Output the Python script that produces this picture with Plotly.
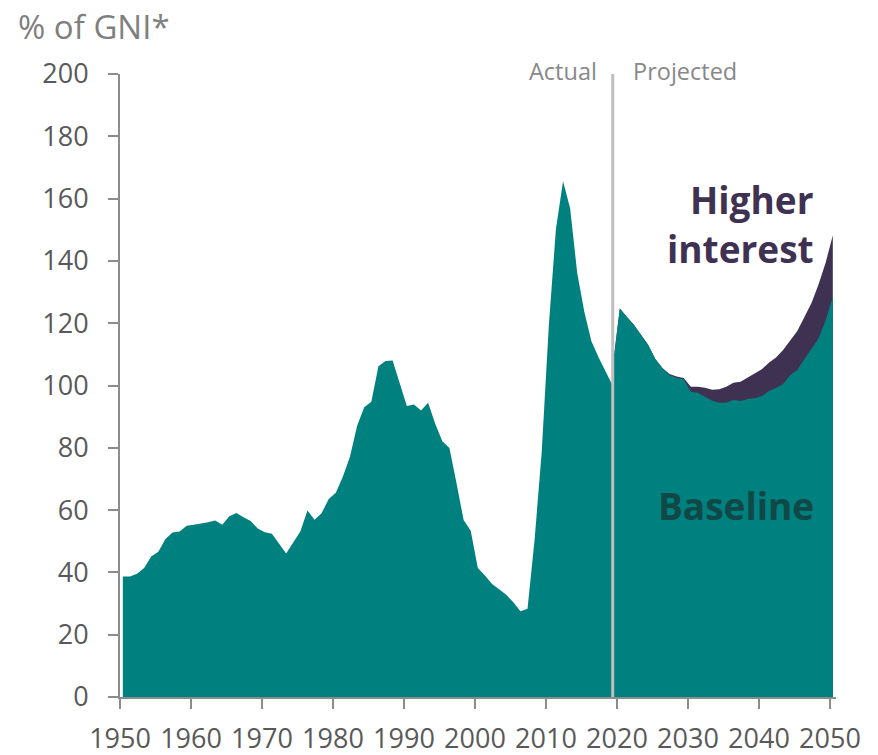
import plotly.graph_objects as go

# 实际数据（占GNI百分比）
years_actual = list(range(1950, 2020))
debt_actual = [
    38.7, 38.7, 39.6, 41.4, 45.1, 46.6, 50.7, 52.8, 53.1, 55.0,
    55.3, 55.6, 56.1, 56.7, 55.3, 58.0, 59.1, 57.7, 56.5, 54.1,
    52.9, 52.4, 49.1, 46.1, 49.6, 53.1, 59.9, 56.9, 59.0, 63.6,
    65.6, 70.8, 77.2, 87.1, 93.0, 94.8, 106.2, 107.9, 108.0, 100.5,
    93.4, 93.9, 92.0, 94.5, 87.7, 82.1, 79.9, 68.6, 56.8, 53.4,
    41.4, 39.0, 36.3, 34.6, 32.8, 30.4, 27.5, 28.3, 50.6, 78.7,
    119.2, 150.2, 165.6, 156.9, 136.1, 123.7, 114.2, 109.1, 104.6, 99.9,
]

# 预测数据
years_proj = list(range(2019, 2051))
debt_baseline = [
    106.0, 124.7, 122.0, 119.4, 116.2, 113.0, 108.5, 105.5, 103.4, 102.5,
    102.0, 98.0, 97.7, 96.4, 95.1, 94.5, 94.5, 95.4, 95.0, 95.7,
    95.9, 96.6, 98.2, 99.2, 100.5, 103.4, 105.0, 108.5, 112.0, 115.1,
    121.0, 128.5,
]
debt_higher = [
    106.0, 124.7, 122.0, 119.4, 116.2, 113.0, 108.5, 105.6, 103.7, 102.9,
    102.4, 99.6, 99.6, 99.3, 98.6, 98.8, 99.6, 100.9, 101.2, 102.6,
    103.9, 105.2, 107.3, 109.0, 111.4, 114.4, 117.5, 122.0, 126.5, 132.5,
    139.5, 148.2,
]

TEAL = '#00807f'
PURPLE = '#3f3152'
FONT = 'Source Sans Pro, Open Sans, Noto Sans, sans-serif'

# 财年中点位置
mid = 0.4
x_act = [y + mid for y in years_actual]
x_proj = [y + mid for y in years_proj]

fig = go.Figure()
fig.add_trace(go.Scatter(x=x_proj, y=debt_higher, mode='lines', fill='tozeroy',
                         line=dict(width=0, color=PURPLE), fillcolor=PURPLE,
                         hoverinfo='skip', showlegend=False))
fig.add_trace(go.Scatter(x=x_act + x_proj, y=debt_actual + debt_baseline, mode='lines',
                         fill='tozeroy', line=dict(width=0, color=TEAL), fillcolor=TEAL,
                         hoverinfo='skip', showlegend=False))

# 实际 / 预测分界线
split = years_actual[-1] + mid
fig.add_shape(type='line', x0=split, x1=split, y0=0, y1=200, xref='x', yref='y',
              line=dict(color='#bfbfbf', width=3), layer='above')

fig.add_annotation(x=split, y=1, xref='x', yref='paper', text='Actual', showarrow=False,
                   xanchor='right', yanchor='middle', xshift=-14, yshift=3,
                   font=dict(family=FONT, size=23.5, color='#888888'))
fig.add_annotation(x=split, y=1, xref='x', yref='paper', text='Projected', showarrow=False,
                   xanchor='left', yanchor='middle', xshift=18, yshift=3,
                   font=dict(family=FONT, size=23.5, color='#888888'))

fig.add_annotation(x=2048.1, y=159.7, xref='x', yref='y', text='Higher', showarrow=False,
                   xanchor='right', yanchor='middle',
                   font=dict(family=FONT, size=37, color=PURPLE, weight='bold'))
fig.add_annotation(x=2048.1, y=143.9, xref='x', yref='y', text='interest', showarrow=False,
                   xanchor='right', yanchor='middle',
                   font=dict(family=FONT, size=37, color=PURPLE, weight='bold'))
fig.add_annotation(x=2048.1, y=61.5, xref='x', yref='y', text='Baseline', showarrow=False,
                   xanchor='right', yanchor='middle',
                   font=dict(family=FONT, size=37, color='#0f4846', weight='bold'))

fig.add_annotation(x=0, y=1, xref='paper', yref='paper', text='% of GNI*', showarrow=False,
                   xanchor='left', yanchor='middle', xshift=-104, yshift=48,
                   font=dict(family=FONT, size=33, color='#7f7f7f'))

# 页面默认有8px边距，所以图形尺寸减去8
fig.update_layout(
    width=870, height=747,
    margin=dict(l=112, r=42, t=66, b=58),
    plot_bgcolor='white', paper_bgcolor='white',
    font=dict(family=FONT, color='#595959'),
    xaxis=dict(range=[1950, 2050.85], tickvals=list(range(1950, 2051, 10)),
               tickangle=0, ticks='outside', ticklen=10, tickwidth=2, tickcolor='#8c8c8c',
               showline=True, linecolor='#8c8c8c', linewidth=2,
               showgrid=False, zeroline=False, automargin=False, ticklabelstandoff=7,
               tickfont=dict(family=FONT, size=27, color='#595959')),
    yaxis=dict(range=[0, 200], dtick=20, ticks='outside', ticklen=10, tickwidth=2,
               tickcolor='#8c8c8c', showline=True, linecolor='#8c8c8c', linewidth=2,
               showgrid=False, zeroline=False, automargin=False, ticklabelstandoff=14,
               tickfont=dict(family=FONT, size=27, color='#595959')),
)

fig.write_html('out.html')
